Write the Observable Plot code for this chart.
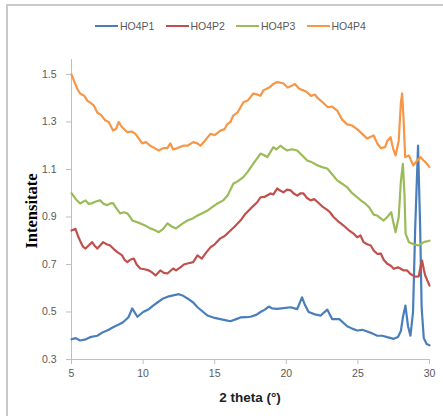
<!DOCTYPE html>
<html><head><meta charset="utf-8">
<script src="https://cdn.jsdelivr.net/npm/d3@7"></script>
<script src="https://cdn.jsdelivr.net/npm/@observablehq/plot@0.6"></script>
<style>
body{margin:0;background:#fff;}
#wrap{position:relative;width:443px;height:416px;overflow:hidden;font-family:"Liberation Sans",Arial,sans-serif;background:#fff;}
#frame{position:absolute;left:6px;top:4px;width:600px;height:600px;border-top:2px solid #c9c9c9;border-left:2px solid #c9c9c9;}
#chart{position:absolute;left:0;top:0;}
#legend{position:absolute;top:20px;left:95px;display:flex;font-size:10.5px;color:#595959;}
.item{display:flex;align-items:center;width:70.5px;}
.sw{width:23px;height:2.5px;margin-right:2px;}
#ytitle{position:absolute;left:32px;top:211px;transform:translate(-50%,-50%) rotate(-90deg);font-family:"Liberation Serif","Times New Roman",serif;font-weight:bold;font-size:16.5px;color:#000;white-space:nowrap;}
#xtitle{position:absolute;left:250px;top:397px;transform:translate(-50%,-50%);font-weight:bold;font-size:13.5px;color:#222;white-space:nowrap;}
</style></head>
<body>
<div id="wrap">
  <div id="frame"></div>
  <div id="chart"></div>
  <div id="legend"></div>
  <div id="ytitle"></div>
  <div id="xtitle"></div>
</div>
<script>
const seriesNames = ["HO4P1", "HO4P2", "HO4P3", "HO4P4"];
const seriesColors = ["#4a7ebb", "#c0504d", "#9bbb59", "#f79646"];
const xTicks = [5, 10, 15, 20, 25, 30];
const yTicks = [0.3, 0.5, 0.7, 0.9, 1.1, 1.3, 1.5];
const xTitle = "2 theta (°)";
const yTitle = "Intensitate";

const ho4p1 = [[5.0,0.385],[5.3,0.39],[5.6,0.38],[6.0,0.385],[6.3,0.394],[6.8,0.40],[7.2,0.415],[7.6,0.425],[7.9,0.436],[8.3,0.447],[8.6,0.457],[8.98,0.478],[9.24,0.515],[9.6,0.48],[10.0,0.50],[10.4,0.512],[10.7,0.527],[11.0,0.54],[11.4,0.557],[11.8,0.566],[12.1,0.57],[12.5,0.575],[12.8,0.568],[13.1,0.557],[13.5,0.54],[13.8,0.52],[14.2,0.50],[14.5,0.485],[15.0,0.475],[15.4,0.47],[15.8,0.465],[16.1,0.461],[16.5,0.47],[16.8,0.477],[17.2,0.478],[17.5,0.48],[17.9,0.488],[18.2,0.50],[18.5,0.51],[18.78,0.523],[19.0,0.515],[19.36,0.513],[19.8,0.516],[20.3,0.52],[20.76,0.512],[21.1,0.562],[21.3,0.53],[21.56,0.50],[22.0,0.49],[22.4,0.485],[22.86,0.51],[23.2,0.47],[23.7,0.47],[24.25,0.44],[24.6,0.43],[24.95,0.422],[25.3,0.425],[25.65,0.418],[26.0,0.41],[26.35,0.40],[26.7,0.40],[27.05,0.394],[27.5,0.387],[27.8,0.395],[28.0,0.42],[28.15,0.48],[28.32,0.527],[28.5,0.44],[28.67,0.40],[28.85,0.50],[29.0,0.85],[29.2,1.20],[29.35,0.85],[29.45,0.52],[29.6,0.39],[29.8,0.365],[30.0,0.36]];

const ho4p2 = [[5.0,0.843],[5.28,0.85],[5.45,0.82],[5.6,0.80],[5.8,0.775],[5.98,0.767],[6.2,0.78],[6.44,0.794],[6.6,0.78],[6.8,0.767],[7.0,0.78],[7.2,0.794],[7.45,0.785],[7.7,0.78],[7.95,0.765],[8.2,0.752],[8.54,0.738],[8.7,0.72],[8.9,0.71],[9.1,0.72],[9.35,0.725],[9.55,0.70],[9.8,0.683],[10.1,0.68],[10.4,0.675],[10.6,0.668],[10.87,0.654],[11.2,0.675],[11.45,0.665],[11.7,0.662],[12.1,0.683],[12.3,0.675],[12.6,0.688],[12.85,0.70],[13.1,0.704],[13.5,0.71],[13.8,0.738],[14.1,0.725],[14.4,0.75],[14.7,0.772],[15.0,0.785],[15.4,0.81],[15.7,0.82],[16.1,0.843],[16.4,0.86],[16.8,0.885],[17.1,0.91],[17.5,0.935],[17.97,0.962],[18.2,0.983],[18.5,0.985],[18.9,0.999],[19.1,0.995],[19.36,1.02],[19.6,1.01],[19.8,1.004],[20.05,1.015],[20.3,1.012],[20.5,1.00],[20.76,0.99],[21.0,1.00],[21.2,0.999],[21.45,0.98],[21.7,0.97],[21.95,0.975],[22.2,0.962],[22.5,0.945],[22.86,0.93],[23.05,0.92],[23.3,0.90],[23.65,0.88],[24.0,0.864],[24.35,0.845],[24.7,0.83],[24.95,0.815],[25.18,0.822],[25.4,0.794],[25.65,0.785],[25.9,0.78],[26.1,0.759],[26.35,0.745],[26.6,0.746],[26.8,0.72],[27.05,0.703],[27.3,0.695],[27.5,0.682],[27.8,0.688],[28.2,0.675],[28.44,0.675],[28.67,0.66],[29.0,0.649],[29.25,0.65],[29.4,0.70],[29.48,0.717],[29.6,0.68],[29.7,0.654],[30.0,0.611]];

const ho4p3 = [[5.0,1.0],[5.3,0.975],[5.6,0.957],[5.98,0.97],[6.2,0.955],[6.4,0.957],[6.7,0.965],[7.0,0.97],[7.25,0.955],[7.5,0.95],[7.7,0.957],[7.9,0.958],[8.15,0.935],[8.4,0.915],[8.65,0.92],[8.9,0.915],[9.1,0.90],[9.24,0.885],[9.5,0.88],[9.8,0.873],[10.1,0.865],[10.5,0.852],[10.8,0.845],[11.1,0.836],[11.4,0.85],[11.7,0.873],[12.0,0.86],[12.3,0.852],[12.7,0.87],[13.1,0.885],[13.5,0.895],[13.8,0.906],[14.1,0.915],[14.5,0.927],[14.8,0.94],[15.2,0.957],[15.6,0.97],[15.9,0.99],[16.3,1.04],[16.6,1.05],[17.0,1.068],[17.3,1.09],[17.7,1.125],[18.0,1.15],[18.2,1.167],[18.45,1.16],[18.67,1.152],[19.1,1.194],[19.3,1.185],[19.6,1.20],[19.8,1.19],[20.06,1.18],[20.4,1.185],[20.76,1.18],[21.1,1.16],[21.46,1.138],[21.8,1.13],[22.2,1.117],[22.5,1.11],[22.86,1.104],[23.2,1.08],[23.55,1.054],[23.9,1.04],[24.25,1.025],[24.6,1.00],[24.95,0.983],[25.2,0.97],[25.5,0.957],[25.8,0.94],[26.1,0.91],[26.35,0.906],[26.8,0.885],[27.05,0.9],[27.33,0.92],[27.5,0.87],[27.63,0.836],[27.85,0.9],[28.0,1.05],[28.14,1.124],[28.25,1.0],[28.33,0.83],[28.56,0.794],[28.9,0.785],[29.25,0.78],[29.6,0.794],[30.0,0.80]];

const ho4p4 = [[5.0,1.50],[5.2,1.47],[5.4,1.44],[5.6,1.42],[5.9,1.41],[6.1,1.39],[6.33,1.38],[6.55,1.37],[6.8,1.34],[7.05,1.33],[7.37,1.306],[7.6,1.30],[7.9,1.264],[8.1,1.27],[8.3,1.30],[8.5,1.28],[8.9,1.257],[9.2,1.26],[9.47,1.25],[9.7,1.23],[9.94,1.21],[10.2,1.215],[10.5,1.20],[10.8,1.19],[11.1,1.18],[11.4,1.19],[11.7,1.19],[11.9,1.21],[12.1,1.184],[12.4,1.19],[12.8,1.20],[13.1,1.20],[13.5,1.215],[13.8,1.21],[14.0,1.20],[14.3,1.22],[14.7,1.25],[15.0,1.245],[15.4,1.264],[15.7,1.27],[15.87,1.29],[16.1,1.30],[16.3,1.327],[16.6,1.34],[17.0,1.383],[17.3,1.39],[17.7,1.42],[18.0,1.415],[18.2,1.41],[18.4,1.433],[18.8,1.445],[19.1,1.46],[19.36,1.468],[19.6,1.465],[19.8,1.462],[20.1,1.445],[20.3,1.45],[20.6,1.46],[20.9,1.44],[21.2,1.433],[21.45,1.425],[21.7,1.41],[22.0,1.415],[22.2,1.40],[22.5,1.385],[22.9,1.362],[23.2,1.365],[23.55,1.348],[23.9,1.31],[24.25,1.29],[24.6,1.285],[24.95,1.27],[25.3,1.25],[25.65,1.23],[26.1,1.243],[26.35,1.21],[26.6,1.19],[26.9,1.194],[27.05,1.22],[27.28,1.236],[27.45,1.19],[27.63,1.159],[27.85,1.22],[28.0,1.38],[28.09,1.42],[28.2,1.30],[28.3,1.152],[28.55,1.159],[28.7,1.14],[28.86,1.117],[29.1,1.135],[29.37,1.152],[29.55,1.14],[29.72,1.131],[30.0,1.11]];

const allSeries = [ho4p1, ho4p2, ho4p3, ho4p4];
const rows = allSeries.flatMap((s, i) => s.map(([x, y]) => ({x, y, series: seriesNames[i]})));

const axisColor = "#bfbfbf";
const labelColor = "#595959";

const chart = Plot.plot({
  width: 443,
  height: 416,
  marginLeft: 71,
  marginRight: 14,
  marginTop: 59,
  marginBottom: 57,
  style: {background: "transparent", fontFamily: "'Liberation Sans', Arial, sans-serif", fontSize: "10.5px"},
  x: {domain: [5, 30]},
  y: {domain: [0.3, 1.563]},
  color: {domain: seriesNames, range: seriesColors},
  marks: [
    Plot.ruleX([5], {stroke: axisColor, strokeWidth: 1}),
    Plot.ruleY([0.3], {stroke: axisColor, strokeWidth: 1}),
    Plot.axisX({ticks: xTicks, tickSize: 5, tickPadding: 5, stroke: axisColor, fill: labelColor, label: null, tickFormat: d => String(d)}),
    Plot.axisY({ticks: yTicks, tickSize: 5, tickPadding: 10, stroke: axisColor, fill: labelColor, label: null, tickFormat: d => d.toFixed(1)}),
    Plot.line(rows, {x: "x", y: "y", z: "series", stroke: "series", strokeWidth: 2.2, curve: "linear"})
  ]
});
document.getElementById("chart").appendChild(chart);

const legend = document.getElementById("legend");
seriesNames.forEach((n, i) => {
  const it = document.createElement("div");
  it.className = "item";
  const sw = document.createElement("div");
  sw.className = "sw";
  sw.style.background = seriesColors[i];
  const t = document.createElement("span");
  t.textContent = n;
  it.appendChild(sw); it.appendChild(t);
  legend.appendChild(it);
});
document.getElementById("ytitle").textContent = yTitle;
document.getElementById("xtitle").textContent = xTitle;
</script>
</body></html>
